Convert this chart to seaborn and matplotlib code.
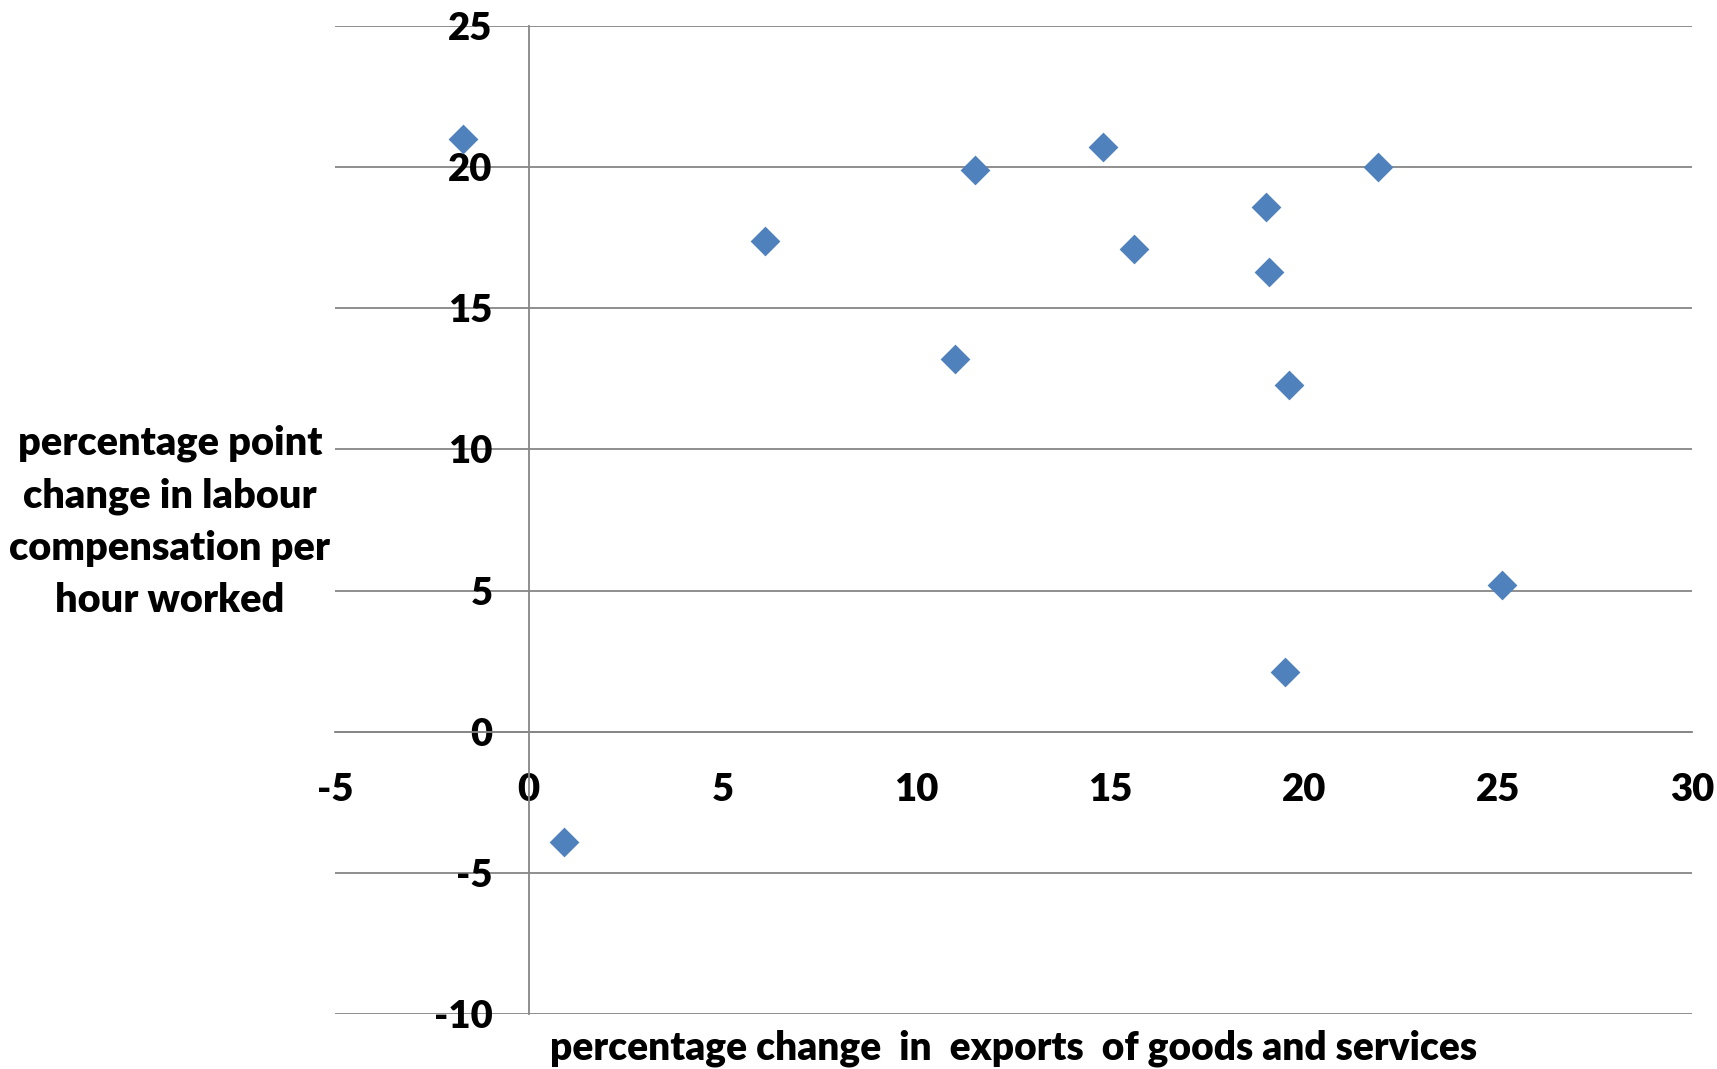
'''Scatter: exports growth vs labour compensation change'''

import matplotlib.pyplot as plt
import seaborn as sns
import pandas as pd

# values
export_change = [-1.7, 6.1, 11.5, 11.0, 14.8, 15.6, 19.0, 19.1, 19.6, 21.9, 25.1, 19.5, 0.9]
labour_change = [21.0, 17.4, 19.9, 13.2, 20.7, 17.1, 18.6, 16.3, 12.3, 20.0, 5.2, 2.1, -3.9]

x_ticks = [-5, 0, 5, 10, 15, 20, 25, 30]
y_ticks = [-10, -5, 0, 5, 10, 15, 20, 25]

xlabel = 'percentage change  in  exports  of goods and services'
ylabel = 'percentage point\nchange in labour\ncompensation per\nhour worked'

df = pd.DataFrame({'exports': export_change, 'labour': labour_change})

sns.set_style('white')
plt.rcParams['font.family'] = ['Lato', 'DejaVu Sans']
plt.rcParams['font.weight'] = 'bold'
plt.rcParams['axes.unicode_minus'] = False
plt.rcParams['text.color'] = 'black'
plt.rcParams['xtick.color'] = 'black'
plt.rcParams['ytick.color'] = 'black'
plt.rcParams['axes.labelcolor'] = 'black'

grey = '#868686'

fig = plt.figure(figsize=(17.17, 10.69), dpi=100)
ax = fig.add_axes([0.195, 0.0514, 0.7905, 0.9243])

ax.grid(axis='y', color=grey, linewidth=1.3)
ax.set_axisbelow(True)

sns.scatterplot(data=df, x='exports', y='labour', marker='D', s=230,
                color='#4F81BD', linewidth=0, ax=ax, zorder=3)

ax.set_xlim(-5, 30)
ax.set_ylim(-10, 25)
ax.set_xticks(x_ticks)
ax.set_yticks(y_ticks)

# axes cross at zero, excel style
ax.spines['left'].set_position(('data', 0))
ax.spines['bottom'].set_position(('data', 0))
ax.spines['top'].set_visible(False)
ax.spines['right'].set_visible(False)
for s in ['left', 'bottom']:
    ax.spines[s].set_color(grey)
    ax.spines[s].set_linewidth(1.3)

ax.tick_params(axis='x', direction='out', length=11, width=1.3, color=grey,
               labelcolor='black', pad=19, labelsize=27.5)
ax.tick_params(axis='y', length=0, pad=26, labelcolor='black', labelsize=27.5)
for lab in ax.get_xticklabels() + ax.get_yticklabels():
    lab.set_fontweight('heavy')

ax.set_xlabel(xlabel, fontsize=28, fontweight='heavy', va='center')
ax.xaxis.set_label_coords(0.5, -0.035)
ax.set_ylabel(ylabel, fontsize=28.5, fontweight='heavy', rotation=0,
              ha='center', va='center', multialignment='center', linespacing=1.5)
ax.yaxis.set_label_coords(-0.1216, 0.498)

plt.savefig('out.png', dpi=100)
